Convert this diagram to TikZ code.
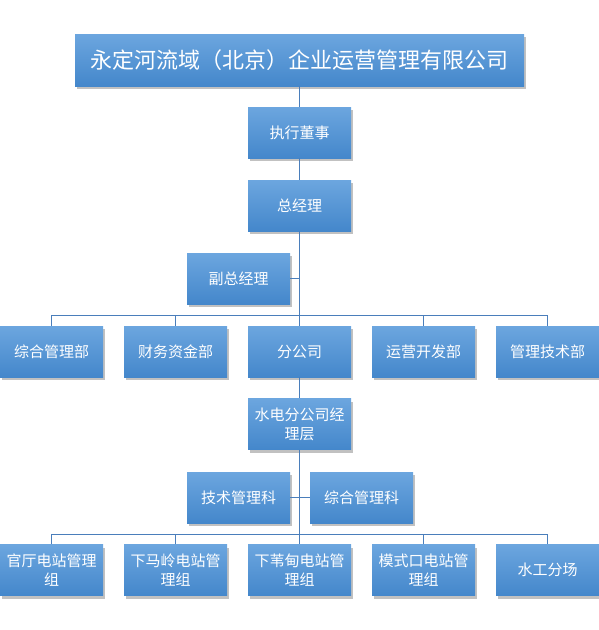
\documentclass[tikz,border=0pt]{standalone}
\usepackage{fontspec}
\newfontfamily\cjk{Noto Sans CJK SC}
\usetikzlibrary{shadows}
\definecolor{boxtop}{HTML}{6CA6DF}
\definecolor{boxbot}{HTML}{4487CB}
\definecolor{linec}{HTML}{4A7EBB}
\begin{document}
\begin{tikzpicture}[x=1pt,y=-1pt,
  orgbox/.style={rectangle, minimum width=103pt, minimum height=51pt, inner sep=1pt,
    top color=boxtop, bottom color=boxbot, draw=none, text=white, align=center,
    font=\cjk\fontsize{15}{19}\selectfont,
    drop shadow={shadow xshift=2pt, shadow yshift=-3pt, opacity=0.35, fill=black!70}},
  conn/.style={draw=linec, line width=0.8pt}]
\useasboundingbox (0,0) rectangle (599,630);
% nodes
\node[orgbox, minimum width=449pt, minimum height=52pt, font=\cjk\fontsize{22}{26}\selectfont] (top) at (299.5,60) {永定河流域（北京）企业运营管理有限公司};
\node[orgbox] (zxds) at (299.5,132.5) {执行董事};
\node[orgbox] (zjl) at (299.5,205.5) {总经理};
\node[orgbox] (fzjl) at (238.5,278.5) {副总经理};
\node[orgbox] (zhglb) at (51.5,351.5) {综合管理部};
\node[orgbox] (cwzjb) at (175.5,351.5) {财务资金部};
\node[orgbox] (fgs) at (299.5,351.5) {分公司};
\node[orgbox] (yykfb) at (423.5,351.5) {运营开发部};
\node[orgbox] (gljsb) at (547.5,351.5) {管理技术部};
\node[orgbox] (sdfgs) at (299.5,424) {水电分公司经\\理层};
\node[orgbox] (jsglk) at (238.5,497.5) {技术管理科};
\node[orgbox] (zhglk) at (361.5,497.5) {综合管理科};
\node[orgbox] (gtdz) at (51.5,570) {官厅电站管理\\组};
\node[orgbox] (xmldz) at (175.5,570) {下马岭电站管\\理组};
\node[orgbox] (xwddz) at (299.5,570) {下苇甸电站管\\理组};
\node[orgbox] (msddz) at (423.5,570) {模式口电站管\\理组};
\node[orgbox] (sgfc) at (547.5,570) {水工分场};
\coordinate (bus1) at (299.5,315);
\coordinate (bus2) at (299.5,534);
% connectors
\draw[conn] (top.south) -- (zxds.north);
\draw[conn] (zxds.south) -- (zjl.north);
\draw[conn] (zjl.south) -- (fgs.north);
\draw[conn] (fzjl.east) -- (fzjl.east -| zjl.south);
\draw[conn] (zhglb.north) |- (bus1) -| (gljsb.north);
\draw[conn] (cwzjb.north) |- (bus1);
\draw[conn] (yykfb.north) |- (bus1);
\draw[conn] (fgs.south) -- (sdfgs.north);
\draw[conn] (sdfgs.south) -- (xwddz.north);
\draw[conn] (jsglk.east) -- (zhglk.west);
\draw[conn] (gtdz.north) |- (bus2) -| (sgfc.north);
\draw[conn] (xmldz.north) |- (bus2);
\draw[conn] (msddz.north) |- (bus2);
\end{tikzpicture}
\end{document}
